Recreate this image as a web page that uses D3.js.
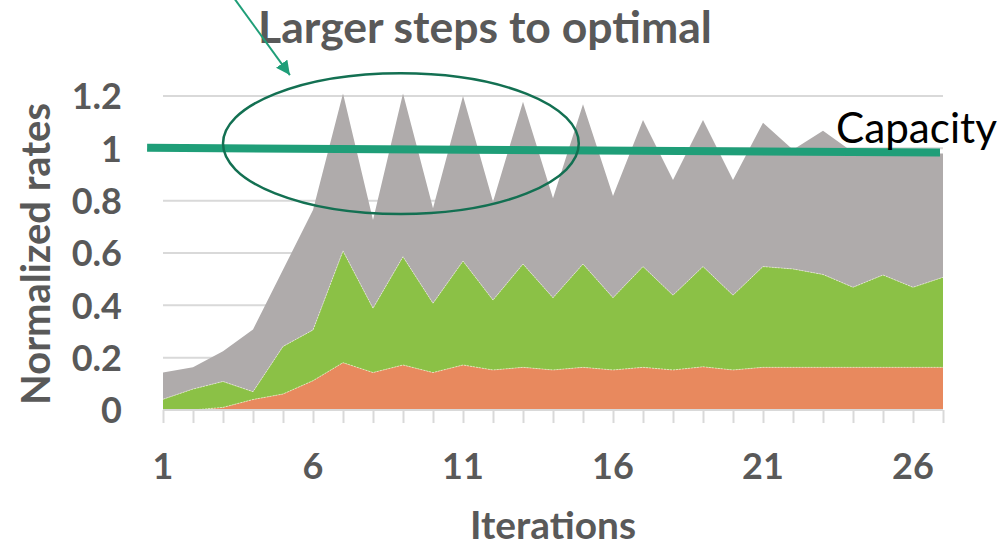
<!DOCTYPE html>
<html>
<head>
<meta charset="utf-8">
<script src="https://cdn.jsdelivr.net/npm/d3@7"></script>
<style>
  html, body { margin: 0; padding: 0; background: #ffffff; }
  svg { display: block; }
</style>
</head>
<body>
<svg id="chart" width="1004" height="546"></svg>
<script>
// Iteration numbers on the category axis
const iterations = [1, 2, 3, 4, 5, 6, 7, 8, 9, 10, 11, 12, 13, 14, 15, 16, 17, 18, 19, 20, 21, 22, 23, 24, 25, 26, 27];

// Stacked rate components (bottom to top)
const rateBottom = [0, 0, 0.01, 0.04, 0.061, 0.112, 0.181, 0.143, 0.172, 0.143, 0.172, 0.153, 0.163, 0.153,
                    0.163, 0.153, 0.163, 0.153, 0.165, 0.153, 0.163, 0.163, 0.163, 0.163, 0.163, 0.163, 0.163];
const rateMiddle = [0.041, 0.08, 0.099, 0.03, 0.182, 0.194, 0.427, 0.246, 0.414, 0.265, 0.397, 0.267, 0.395, 0.276,
                    0.395, 0.276, 0.385, 0.286, 0.383, 0.286, 0.385, 0.376, 0.355, 0.306, 0.353, 0.306, 0.344];
const rateTop    = [0.102, 0.083, 0.116, 0.238, 0.293, 0.458, 0.602, 0.337, 0.624, 0.363, 0.631, 0.376, 0.62, 0.38,
                    0.61, 0.389, 0.56, 0.44, 0.56, 0.44, 0.55, 0.456, 0.549, 0.516, 0.469, 0.511, 0.473];

// Axis ticks
const xTickLabels = [1, 6, 11, 16, 21, 26];
const yTickValues = [0, 0.2, 0.4, 0.6, 0.8, 1, 1.2];

// Capacity reference line (iteration, rate) end points
const capacityIter = [0.47, 26.9];
const capacityRate = [1.002, 0.984];

// Highlight ellipse (centre, radii in data units) and pointer arrow
const ellipseCenter = [8.93, 1.018];
const ellipseRadius = [5.93, 0.269];
const arrowFrom = [3.33, 1.58];
const arrowTo = [5.23, 1.28];

const svg = d3.select("#chart");
const plot = { left: 163, right: 943, top: 96, bottom: 410 };
const FONT = "Lato, 'Open Sans', 'DejaVu Sans', sans-serif";
const GREY_TEXT = "#595959";

const x = d3.scaleLinear().domain([1, 27]).range([plot.left, plot.right]);
const y = d3.scaleLinear().domain([0, 1.2]).range([plot.bottom, plot.top]);

// Gridlines
svg.append("g")
  .selectAll("line")
  .data(yTickValues.filter(v => v > 0))
  .join("line")
  .attr("x1", plot.left).attr("x2", plot.right)
  .attr("y1", d => y(d)).attr("y2", d => y(d))
  .attr("stroke", "#d9d9d9").attr("stroke-width", 2);

// Stacked areas
const rows = iterations.map((it, i) => ({ it, bottom: rateBottom[i], middle: rateMiddle[i], top: rateTop[i] }));
const keys = ["bottom", "middle", "top"];
const colors = { bottom: "#e8895e", middle: "#8bc146", top: "#afabab" };
const stacked = d3.stack().keys(keys)(rows);

const area = d3.area()
  .x(d => x(d.data.it))
  .y0(d => y(d[0]))
  .y1(d => y(d[1]));

svg.append("g")
  .selectAll("path")
  .data(stacked)
  .join("path")
  .attr("d", area)
  .attr("fill", d => colors[d.key]);

// faint seams along the layer boundaries
const seam = d3.line().x(d => x(d.data.it)).y(d => y(d[1]));
svg.append("g")
  .selectAll("path")
  .data(stacked.slice(0, 2))
  .join("path")
  .attr("d", seam)
  .attr("fill", "none")
  .attr("stroke", "rgba(255,255,235,0.55)")
  .attr("stroke-width", 1)
  .attr("stroke-dasharray", "2,1");

// X axis line and tick marks
const xAxis = d3.axisBottom(x)
  .tickValues(iterations)
  .tickSize(13)
  .tickFormat("");
const gx = svg.append("g").attr("transform", `translate(0,${plot.bottom})`).call(xAxis);
gx.select(".domain").attr("stroke", "#d9d9d9").attr("stroke-width", 2).attr("d", `M${plot.left},0H${plot.right}`);
gx.selectAll(".tick line").attr("stroke", "#d9d9d9").attr("stroke-width", 2);

// X tick labels
svg.append("g")
  .selectAll("text")
  .data(xTickLabels)
  .join("text")
  .attr("x", d => x(d))
  .attr("y", 479)
  .attr("text-anchor", "middle")
  .attr("font-family", FONT).attr("font-weight", 700).attr("font-size", 36)
  .attr("fill", GREY_TEXT)
  .text(d => d);

// Y axis labels
const yAxis = d3.axisLeft(y).tickValues(yTickValues).tickSize(0).tickFormat(d3.format("~g"));
const gy = svg.append("g").attr("transform", `translate(${plot.left - 41},0)`).call(yAxis);
gy.select(".domain").remove();
gy.selectAll(".tick text")
  .attr("x", 0)
  .attr("dy", "0.36em")
  .attr("font-family", FONT).attr("font-weight", 700).attr("font-size", 36)
  .attr("fill", GREY_TEXT);

// scale a text element so its rendered width equals w
function fitWidth(sel, w) {
  const len = sel.node().getComputedTextLength();
  const fs = parseFloat(sel.attr("font-size"));
  sel.attr("font-size", fs * w / len);
  return sel;
}

// Axis titles
fitWidth(svg.append("text")
  .attr("x", 553).attr("y", 539)
  .attr("text-anchor", "middle")
  .attr("font-family", FONT).attr("font-weight", 700).attr("font-size", 38)
  .attr("fill", GREY_TEXT)
  .text("Iterations"), 166);

fitWidth(svg.append("text")
  .attr("transform", "translate(50,254) rotate(-90)")
  .attr("text-anchor", "middle")
  .attr("font-family", FONT).attr("font-weight", 700).attr("font-size", 38)
  .attr("fill", GREY_TEXT)
  .text("Normalized rates"), 302);

// Title
fitWidth(svg.append("text")
  .attr("x", 485).attr("y", 43)
  .attr("text-anchor", "middle")
  .attr("font-family", FONT).attr("font-weight", 700).attr("font-size", 37)
  .attr("fill", GREY_TEXT)
  .text("Larger steps to optimal"), 454);

// Capacity line
svg.append("line")
  .attr("x1", x(capacityIter[0])).attr("y1", y(capacityRate[0]))
  .attr("x2", x(capacityIter[1])).attr("y2", y(capacityRate[1]))
  .attr("stroke", "#1f9e78").attr("stroke-width", 8);

fitWidth(svg.append("text")
  .attr("x", 836).attr("y", 143)
  .attr("font-family", FONT).attr("font-weight", 400).attr("font-size", 42)
  .attr("fill", "#000000")
  .text("Capacity"), 161);

// Highlight ellipse
svg.append("ellipse")
  .attr("cx", x(ellipseCenter[0])).attr("cy", y(ellipseCenter[1]))
  .attr("rx", x(ellipseCenter[0] + ellipseRadius[0]) - x(ellipseCenter[0]))
  .attr("ry", y(ellipseCenter[1] - ellipseRadius[1]) - y(ellipseCenter[1]))
  .attr("fill", "none")
  .attr("stroke", "#137052").attr("stroke-width", 2.5);

// Pointer arrow
svg.append("defs").append("marker")
  .attr("id", "head")
  .attr("viewBox", "0 0 10 10")
  .attr("refX", 10).attr("refY", 5)
  .attr("markerWidth", 7).attr("markerHeight", 7)
  .attr("markerUnits", "strokeWidth")
  .attr("orient", "auto")
  .append("path")
  .attr("d", "M0,0L10,5L0,10Z")
  .attr("fill", "#1f9e78");

svg.append("line")
  .attr("x1", x(arrowFrom[0])).attr("y1", y(arrowFrom[1]))
  .attr("x2", x(arrowTo[0])).attr("y2", y(arrowTo[1]))
  .attr("stroke", "#1f9e78").attr("stroke-width", 2)
  .attr("marker-end", "url(#head)");
</script>
</body>
</html>
